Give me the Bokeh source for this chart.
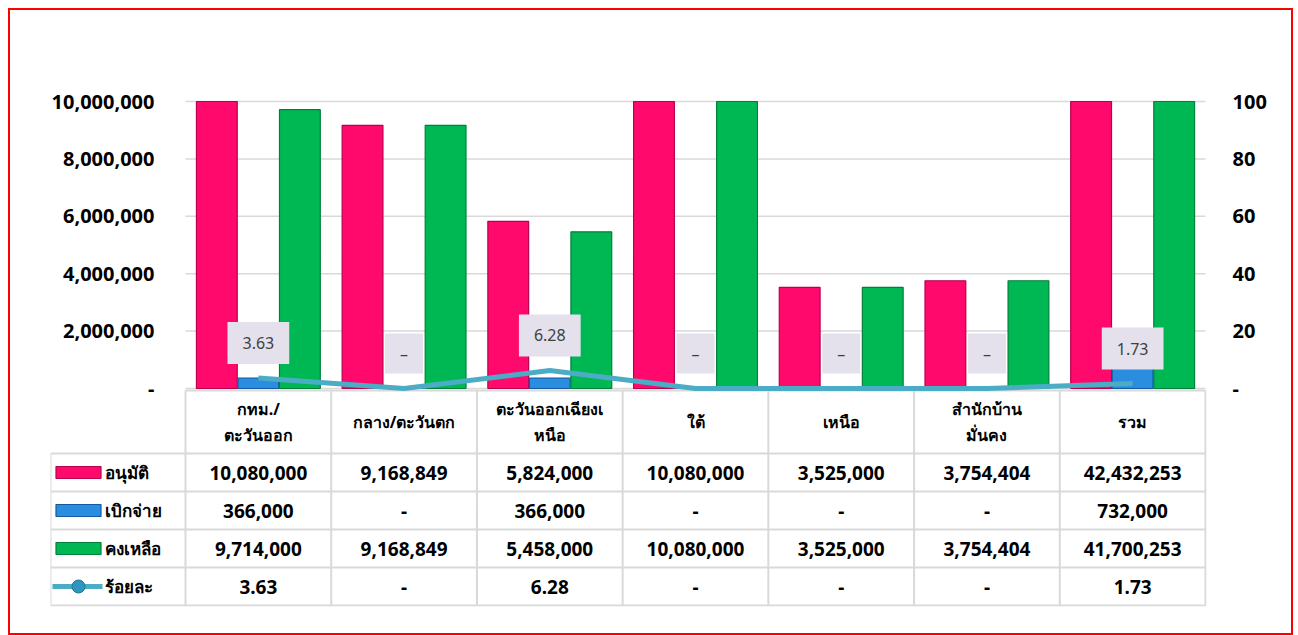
from bokeh.plotting import figure
from bokeh.models import Range1d, LinearAxis, NumeralTickFormatter, FixedTicker
from bokeh.core.properties import value
from bokeh.embed import file_html
from bokeh.resources import INLINE

# ---------------- data ----------------
regions = ["กทม./\nตะวันออก", "กลาง/ตะวันตก", "ตะวันออกเฉียงเ\nหนือ", "ใต้",
           "เหนือ", "สำนักบ้าน\nมั่นคง", "รวม"]
approved = [10080000, 9168849, 5824000, 10080000, 3525000, 3754404, 42432253]
disbursed = [366000, 0, 366000, 0, 0, 0, 732000]
remaining = [9714000, 9168849, 5458000, 10080000, 3525000, 3754404, 41700253]
percent = [3.63, 0, 6.28, 0, 0, 0, 1.73]
series_names = ["อนุมัติ", "เบิกจ่าย", "คงเหลือ", "ร้อยละ"]
left_ticks = [0, 2000000, 4000000, 6000000, 8000000, 10000000]
right_ticks = [0, 20, 40, 60, 80, 100]

# ---------------- style / layout constants ----------------
FONT = "Noto Sans"
PINK, PINK_D = "#FF0A6C", "#B8004C"
BLUE, BLUE_D = "#2A8DE0", "#125A9E"
GREEN, GREEN_D = "#00B853", "#00803A"
TEAL = "#4BACC6"
GRID = "#D9D9D9"

W, H = 1285, 627
N = len(regions)
UNIT = 1020 / N            # px per category
LEG = 135 / UNIT           # legend column width in category units
YMAX = left_ticks[-1]
PMAX = right_ticks[-1]
CHART_PX = 287             # px from 0 to YMAX
HEAD_PX = 16               # extra frame room above YMAX (for the top tick label)
BELOW_PX = 218             # frame room below zero (table)
Y_TOP = YMAX * (1 + HEAD_PX / CHART_PX)
Y_BOT = -YMAX * BELOW_PX / CHART_PX
P_TOP = PMAX * (1 + HEAD_PX / CHART_PX)
P_BOT = -PMAX * BELOW_PX / CHART_PX
centers = [i + 0.5 for i in range(N)]


def fmt_num(v):
    return "-" if v == 0 else f"{v:,}"


def fmt_pct(v):
    return "-" if v == 0 else f"{v:.2f}"


def ty(px):        # px below the zero line -> data y
    return -px * YMAX / CHART_PX


def lx(px):        # px from the left edge of the legend column -> data x
    return -LEG + px / UNIT


p = figure(width=W, height=H, x_range=Range1d(-LEG, N + 1 / UNIT), y_range=Range1d(Y_BOT, Y_TOP),
           output_backend="svg", toolbar_location=None, x_axis_location=None,
           y_axis_location=None, min_border_left=40, min_border_right=89,
           min_border_top=91 - HEAD_PX, min_border_bottom=31,
           styles={"border": "2px solid #FF0000", "margin-left": "8px", "margin-top": "8px"})
p.outline_line_color = None
p.grid.grid_line_color = None
p.extra_y_ranges = {"pct": Range1d(P_BOT, P_TOP)}

ax_l = LinearAxis(ticker=FixedTicker(ticks=left_ticks), formatter=NumeralTickFormatter(format="0,0"),
                  major_label_overrides={0: "-"}, fixed_location=0)
ax_r = LinearAxis(y_range_name="pct", ticker=FixedTicker(ticks=right_ticks),
                  major_label_overrides={0: "-"})
p.add_layout(ax_l, "left")
p.add_layout(ax_r, "right")
for ax in (ax_l, ax_r):
    ax.axis_line_color = None
    ax.major_tick_line_color = None
    ax.minor_tick_line_color = None
    ax.major_label_text_font = FONT
    ax.major_label_text_font_style = "bold"
    ax.major_label_text_font_size = "20px"
    ax.major_label_text_color = "#000000"
ax_l.major_label_standoff = 25
ax_r.major_label_standoff = 20

# horizontal gridlines at the left-axis ticks, across the plot columns only
p.segment(x0=[0] * len(left_ticks), x1=[N] * len(left_ticks), y0=left_ticks, y1=left_ticks,
          line_color=GRID, line_width=1.5)

BW = 0.28
OFF = 0.285
for vals, off, c, cd in ((approved, -OFF, PINK, PINK_D), (disbursed, 0, BLUE, BLUE_D),
                         (remaining, OFF, GREEN, GREEN_D)):
    xs = [c0 + off for c0 in centers]
    p.vbar(x=xs, top=[min(v, YMAX) for v in vals], width=BW, bottom=0,
           fill_color=c, line_color=cd, line_width=1.2)

# ---------------- table ----------------
TOP = 2
HDR = 63
RH = 38
bounds = [TOP + HDR + RH * k for k in range(5)]
BOT = bounds[-1]

x0s, y0s, x1s, y1s = [], [], [], []
for i in range(N + 1):
    x0s.append(i); x1s.append(i); y0s.append(ty(TOP)); y1s.append(ty(BOT))
x0s.append(-LEG); x1s.append(-LEG); y0s.append(ty(bounds[0])); y1s.append(ty(BOT))
x0s.append(0); x1s.append(N); y0s.append(ty(TOP)); y1s.append(ty(TOP))
for b in bounds:
    x0s.append(-LEG); x1s.append(N); y0s.append(ty(b)); y1s.append(ty(b))
p.segment(x0=x0s, y0=y0s, x1=x1s, y1=y1s, line_color=GRID, line_width=2)

p.text(x=centers, y=[ty(TOP + HDR / 2)] * N, text=regions, text_align="center",
       text_baseline="middle", text_font=value(FONT), text_font_style="bold",
       text_font_size="16px", text_color="#000000", text_line_height=1.2)

row_centers = [ty(bounds[k] + RH / 2) for k in range(4)]
table_rows = [[fmt_num(v) for v in approved], [fmt_num(v) for v in disbursed],
              [fmt_num(v) for v in remaining], [fmt_pct(v) for v in percent]]
for k, vals in enumerate(table_rows):
    p.text(x=centers, y=[row_centers[k]] * N, text=vals, text_align="center",
           text_baseline="middle", text_font=value(FONT), text_font_style="bold",
           text_font_size="19px", text_color="#000000")

# legend keys
for k, (c, cd) in enumerate(((PINK, PINK_D), (BLUE, BLUE_D), (GREEN, GREEN_D))):
    p.rect(x=[lx(28)], y=[row_centers[k]], width=45, height=12, width_units="screen",
           height_units="screen", fill_color=c, line_color=cd, line_width=1.2)
p.segment(x0=[lx(2)], y0=[row_centers[3]], x1=[lx(52)], y1=[row_centers[3]],
          line_color=TEAL, line_width=5)
p.scatter(x=[lx(28)], y=[row_centers[3]], size=13, fill_color="#2E96BE",
          line_color="#1F7598", line_width=1)
p.text(x=[lx(54)] * 4, y=row_centers, text=series_names, text_align="left",
       text_baseline="middle", text_font=value(FONT), text_font_style="bold",
       text_font_size="17px", text_color="#000000")

# ---------------- percentage line + labels ----------------
p.line(x=centers, y=percent, y_range_name="pct", line_color=TEAL, line_width=5)
num_x = [c for c, v in zip(centers, percent) if v != 0]
num_y = [v for v in percent if v != 0]
dash_x = [c for c, v in zip(centers, percent) if v == 0]
dash_y = [v for v in percent if v == 0]
p.text(x=num_x, y=num_y, text=[fmt_pct(v) for v in num_y],
       y_range_name="pct", y_offset=-35, text_align="center", text_baseline="middle",
       text_font=value(FONT), text_font_size="16px", text_color="#404040",
       background_fill_color="#E4E0EC", padding=(15, 15))
p.text(x=dash_x, y=dash_y, text=["–" for v in dash_y],
       y_range_name="pct", y_offset=-35, text_align="center", text_baseline="middle",
       text_font=value(FONT), text_font_size="16px", text_color="#404040",
       background_fill_color="#E4E0EC", padding=(15, 9))

open("out.html", "w").write(file_html(p, INLINE))
